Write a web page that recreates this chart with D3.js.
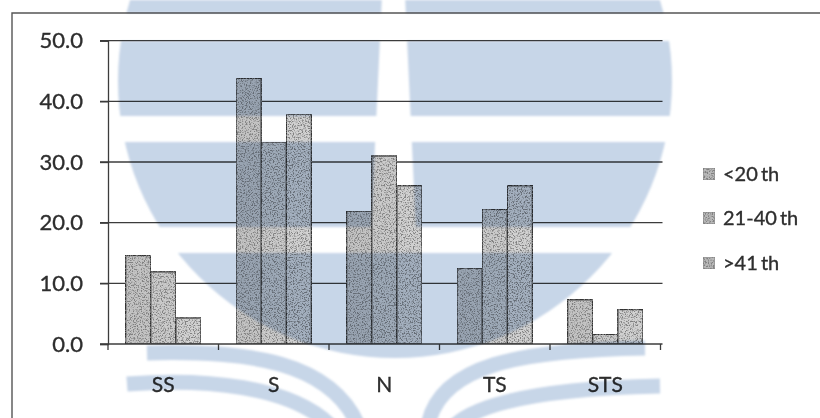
<!DOCTYPE html>
<html>
<head>
<meta charset="utf-8">
<script src="https://cdn.jsdelivr.net/npm/d3@7"></script>
<style>
  html, body { margin: 0; padding: 0; background: #fff; }
  svg { display: block; }
  text { font-family: Lato, "Open Sans", sans-serif; fill: #2e2e2e; stroke: #2e2e2e; stroke-width: 0.35px; }
</style>
</head>
<body>
<svg id="chart" width="820" height="418"></svg>
<script>
// Response categories and age groups
const categories = ["SS", "S", "N", "TS", "STS"];
const series = ["<20 th", "21-40 th", ">41 th"];
// Percentage of respondents per category, one array per age group
const under20 = [14.6, 43.8, 21.9, 12.5, 7.3];
const age21to40 = [11.9, 33.3, 31.0, 22.2, 1.6];
const over41 = [4.3, 37.9, 26.1, 26.1, 5.7];
const yTicks = [0, 10, 20, 30, 40, 50];

const values = [under20, age21to40, over41];
const fills = ["#c4c4c4", "#cbcbcb", "#d2d2d2"];

const svg = d3.select("#chart");
const W = 820, H = 418;

const defs = svg.append("defs");
// speckled printed texture for the bars
const grain = defs.append("filter").attr("id", "grain")
  .attr("x", 0).attr("y", 0).attr("width", "100%").attr("height", "100%");
grain.append("feTurbulence").attr("type", "fractalNoise")
  .attr("baseFrequency", 0.75).attr("numOctaves", 3).attr("seed", 7).attr("result", "n");
grain.append("feColorMatrix").attr("in", "n").attr("type", "matrix")
  .attr("values", "0 0 0 0 0.22  0 0 0 0 0.22  0 0 0 0 0.22  5 0 0 0 -2.35")
  .attr("result", "dots");
grain.append("feComposite").attr("in", "dots").attr("in2", "SourceGraphic")
  .attr("operator", "in").attr("result", "d");
const gm = grain.append("feMerge");
gm.append("feMergeNode").attr("in", "SourceGraphic");
gm.append("feMergeNode").attr("in", "d");

const soft = defs.append("filter").attr("id", "soft");
soft.append("feGaussianBlur").attr("stdDeviation", 0.8);

svg.append("rect").attr("width", W).attr("height", H).attr("fill", "#fff");

// outer frame (left and top edges)
svg.append("path")
  .attr("d", `M12,${H} L12,13 L${W},13`)
  .attr("fill", "none").attr("stroke", "#555").attr("stroke-width", 1.4);

const plot = { left: 108, right: 660.5, top: 40.7, bottom: 344 };

const y = d3.scaleLinear().domain([0, 50]).range([plot.bottom, plot.top]);
const x0 = d3.scaleBand().domain(categories).range([plot.left, plot.right]);
const x1 = d3.scaleBand().domain(series).range([0, x0.bandwidth()])
  .paddingInner(0).paddingOuter(0.7);

// gridlines
svg.append("g").selectAll("line").data(yTicks.filter(d => d > 0)).join("line")
  .attr("x1", plot.left - 8).attr("x2", plot.right + 2)
  .attr("y1", d => y(d)).attr("y2", d => y(d))
  .attr("stroke", "#3c3c3c").attr("stroke-width", 1.3);

// bars
const groups = svg.append("g").selectAll("g").data(series).join("g")
  .attr("fill", (d, i) => fills[i]);
groups.selectAll("rect")
  .data((s, i) => categories.map((c, j) => ({ c, s, v: values[i][j] })))
  .join("rect")
  .attr("x", d => x0(d.c) + x1(d.s))
  .attr("y", d => y(d.v))
  .attr("width", x1.bandwidth())
  .attr("height", d => y(0) - y(d.v))
  .attr("stroke", "#333").attr("stroke-width", 1.4)
  .attr("filter", "url(#grain)");

// y axis
const yAxis = svg.append("g").attr("transform", `translate(${plot.left},0)`)
  .call(d3.axisLeft(y).tickValues(yTicks).tickFormat(d3.format(".1f"))
    .tickSize(8).tickPadding(17));
yAxis.select(".domain").attr("stroke", "#3c3c3c").attr("stroke-width", 1.3);
yAxis.selectAll(".tick line").attr("stroke", "#3c3c3c").attr("stroke-width", 1.3);
yAxis.selectAll("text").style("font-size", "22px").attr("fill", "#2e2e2e");

// x axis: labels centred on bands, tick marks on band boundaries
const xAxis = svg.append("g").attr("transform", `translate(0,${plot.bottom})`)
  .call(d3.axisBottom(x0).tickSize(0).tickPadding(33));
xAxis.select(".domain").attr("d", `M${plot.left - 8},0H${plot.right + 2}`)
  .attr("stroke", "#3c3c3c").attr("stroke-width", 1.3);
xAxis.selectAll("text").style("font-size", "21px").attr("fill", "#2e2e2e");
const bounds = categories.map(c => x0(c)).concat([x0.range()[1]]);
xAxis.append("g").selectAll("line").data(bounds).join("line")
  .attr("x1", d => d).attr("x2", d => d).attr("y1", 0).attr("y2", 6)
  .attr("stroke", "#3c3c3c").attr("stroke-width", 1.3);

// legend
const legend = svg.append("g").attr("transform", "translate(703,0)");
const legendY = [174, 218, 263];
series.forEach((s, i) => {
  legend.append("rect").attr("x", 0).attr("y", legendY[i] - 6)
    .attr("width", 12).attr("height", 12)
    .attr("fill", "#b8b8b8").attr("stroke", "#777").attr("stroke-width", 0.8)
    .attr("filter", "url(#grain)");
  legend.append("text").attr("x", 20).attr("y", legendY[i]).attr("dy", "0.35em")
    .style("font-size", "20px").style("word-spacing", "-2px").text(s);
});

// faint blue emblem printed across the page
const blue = "#c7d6e8";
const emblem = svg.append("g").style("mix-blend-mode", "multiply").attr("filter", "url(#soft)");
const mask = defs.append("mask").attr("id", "stripes");
mask.append("rect").attr("width", W).attr("height", H).attr("fill", "#fff");
[[13, 41], [116, 142], [227, 253]].forEach(([a, b]) =>
  mask.append("rect").attr("x", 0).attr("y", a).attr("width", W).attr("height", b - a).attr("fill", "#000"));
mask.append("path").attr("d", "M382,-5 L405,-5 L417,253 L370,253 Z").attr("fill", "#000");
emblem.append("circle").attr("cx", 395).attr("cy", 81).attr("r", 277)
  .attr("fill", blue).attr("mask", "url(#stripes)");
const swooshes = [
  "M147,353 C250,350 330,362 358,425",
  "M127,384 C205,378 290,386 330,425",
  "M428,425 C440,365 520,350 645,348",
  "M455,425 C485,398 565,388 660,386"
];
emblem.selectAll("path.sw").data(swooshes).join("path").attr("class", "sw")
  .attr("d", d => d).attr("fill", "none").attr("stroke", blue).attr("stroke-width", 15);
</script>
</body>
</html>
